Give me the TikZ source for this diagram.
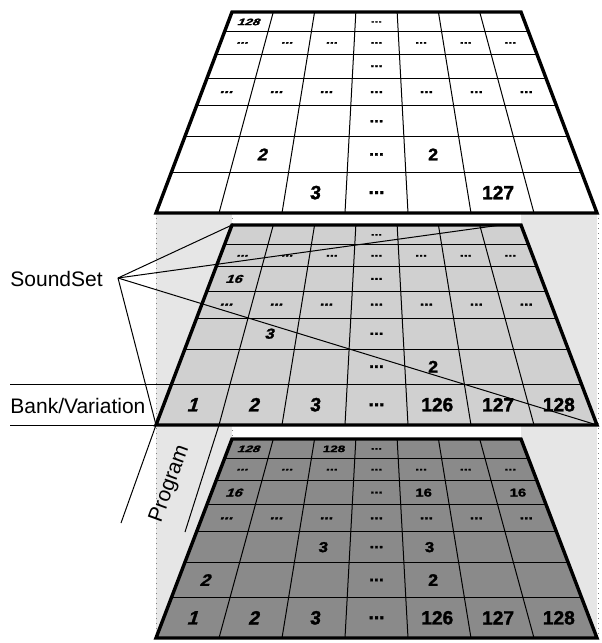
\documentclass[tikz,border=0pt]{standalone}
\usepackage{fontspec}
\setmainfont{Liberation Sans}
\newfontfamily\cellfont{Liberation Sans Bold}[FakeBold=1.6]
\usepackage{xcolor}
\definecolor{bandgray}{HTML}{E6E6E6}
\definecolor{midgray}{HTML}{D0D0D0}
\definecolor{lowgray}{HTML}{8A8A8A}
\usepackage{tikz}
\usetikzlibrary{calc}

% row lines of a layer, as fractions from its far (top) edge
\newcommand{\rowfrac}{{0,0.099,0.209,0.330,0.467,0.620,0.797,1}}
\newcommand{\dotcell}{...}
% \cellat{layer}{column}{row}{text}
\newcommand{\cellat}[4]{%
  \pgfmathsetmacro\ta{\rowfrac[#3-1]}%
  \pgfmathsetmacro\tb{\rowfrac[#3]}%
  \pgfmathsetmacro\tm{(\ta+\tb)/2}%
  \pgfmathsetmacro\cf{(#2-0.5)/7}%
  \pgfmathsetmacro\sx{0.677+0.356*\tm}%
  \pgfmathsetmacro\sy{(\tb-\ta)/0.203}%
  \pgfmathsetmacro\sl{max(0.32-0.11*(#2-1),0)}%
  \path ($($(#1-tl)!\tm!(#1-bl)$)!\cf!($(#1-tr)!\tm!(#1-br)$)$)
    node[cellnum, xscale=\sx, yscale=\sy, xslant=\sl] (#1-#2-#3) {#4};%
}

\begin{document}
\begin{tikzpicture}[
  x=0.5pt, y=-0.5pt,
  gridline/.style={line width=0.5pt},
  rim/.style={line width=1.7pt, line join=miter},
  guide/.style={draw=gray, dotted, line width=0.5pt},
  pointer/.style={line width=0.5pt},
  lbl/.style={font=\fontsize{10.5}{12}\selectfont, inner sep=0pt},
  cellnum/.style={font=\cellfont\fontsize{9.6}{11}\selectfont, inner sep=0pt}
]
\useasboundingbox (0,0) rectangle (601,643);

% Backdrop between the layers
\fill[bandgray] (156,213) rectangle (597,638);
\fill[white] (232,213) rectangle (521,225);
\fill[white] (232,425) rectangle (521,439);
\draw[guide] (156,213) -- (156,638);
\draw[guide] (598,213) -- (598,638);
\draw[guide] (232,213) -- (232,225);
\draw[guide] (232,425) -- (232,439);

% Layers
\foreach \ly/\yt/\yb/\fc in {top/12/213/white, mid/225/425/midgray, low/439/638/lowgray} {
  \coordinate (\ly-tl) at (232,\yt);
  \coordinate (\ly-tr) at (521,\yt);
  \coordinate (\ly-bl) at (156,\yb);
  \coordinate (\ly-br) at (597,\yb);
  \fill[\fc] (\ly-tl) -- (\ly-tr) -- (\ly-br) -- (\ly-bl) -- cycle;
  \foreach \t in {0.099,0.209,0.330,0.467,0.620,0.797}
    \draw[gridline] ($(\ly-tl)!\t!(\ly-bl)$) -- ($(\ly-tr)!\t!(\ly-br)$);
  \foreach \c in {1,...,6}
    \draw[gridline] ($(\ly-tl)!\c/7!(\ly-tr)$) -- ($(\ly-bl)!\c/7!(\ly-br)$);
  \draw[rim] (\ly-tl) -- (\ly-tr) -- (\ly-br) -- (\ly-bl) -- cycle;
}

% Cell entries
\foreach \ly in {top,mid,low} {
  \foreach \r in {2,4}
    \foreach \c in {1,2,3,5,6,7}
      \cellat{\ly}{\c}{\r}{\dotcell};
  \foreach \r in {1,...,7}
    \cellat{\ly}{4}{\r}{\dotcell};
}
\foreach \c/\r/\txt in {1/1/128, 2/6/2, 5/6/2, 3/7/3, 6/7/127}
  \cellat{top}{\c}{\r}{\txt};
\foreach \c/\r/\txt in {1/3/16, 2/5/3, 5/6/2, 1/7/1, 2/7/2, 3/7/3, 5/7/126, 6/7/127, 7/7/128}
  \cellat{mid}{\c}{\r}{\txt};
\foreach \c/\r/\txt in {1/1/128, 3/1/128, 1/3/16, 5/3/16, 7/3/16, 3/5/3, 5/5/3,
                        1/6/2, 5/6/2, 1/7/1, 2/7/2, 3/7/3, 5/7/126, 6/7/127, 7/7/128}
  \cellat{low}{\c}{\r}{\txt};

% SoundSet
\node[lbl, anchor=west] (soundset) at (10,279) {SoundSet};
\coordinate (ss-pt) at (118,278);
\coordinate (mid-pin) at ($(mid-tl)!0.93!(mid-tr)$);
\foreach \p in {mid-tl, mid-pin, mid-br, mid-bl}
  \draw[pointer] (ss-pt) -- (\p);

% Bank/Variation
\node[lbl, anchor=west] (bankvar) at (10,406) {Bank/Variation};
\coordinate (mid-r6) at ($(mid-tl)!0.797!(mid-bl)$);
\draw[pointer] (mid-r6 -| bankvar.west) -- (mid-r6);
\draw[pointer] (mid-bl -| bankvar.west) -- (mid-bl);

% Program
\node[lbl, rotate=70] (program) at (170,484) {Program};
\coordinate (pg-a) at (121,523);
\coordinate (pg-b) at (185,532);
\draw[pointer] (mid-bl) -- (pg-a);
\draw[pointer] ($(mid-bl)!1/7!(mid-br)$) -- (pg-b);
\end{tikzpicture}
\end{document}
